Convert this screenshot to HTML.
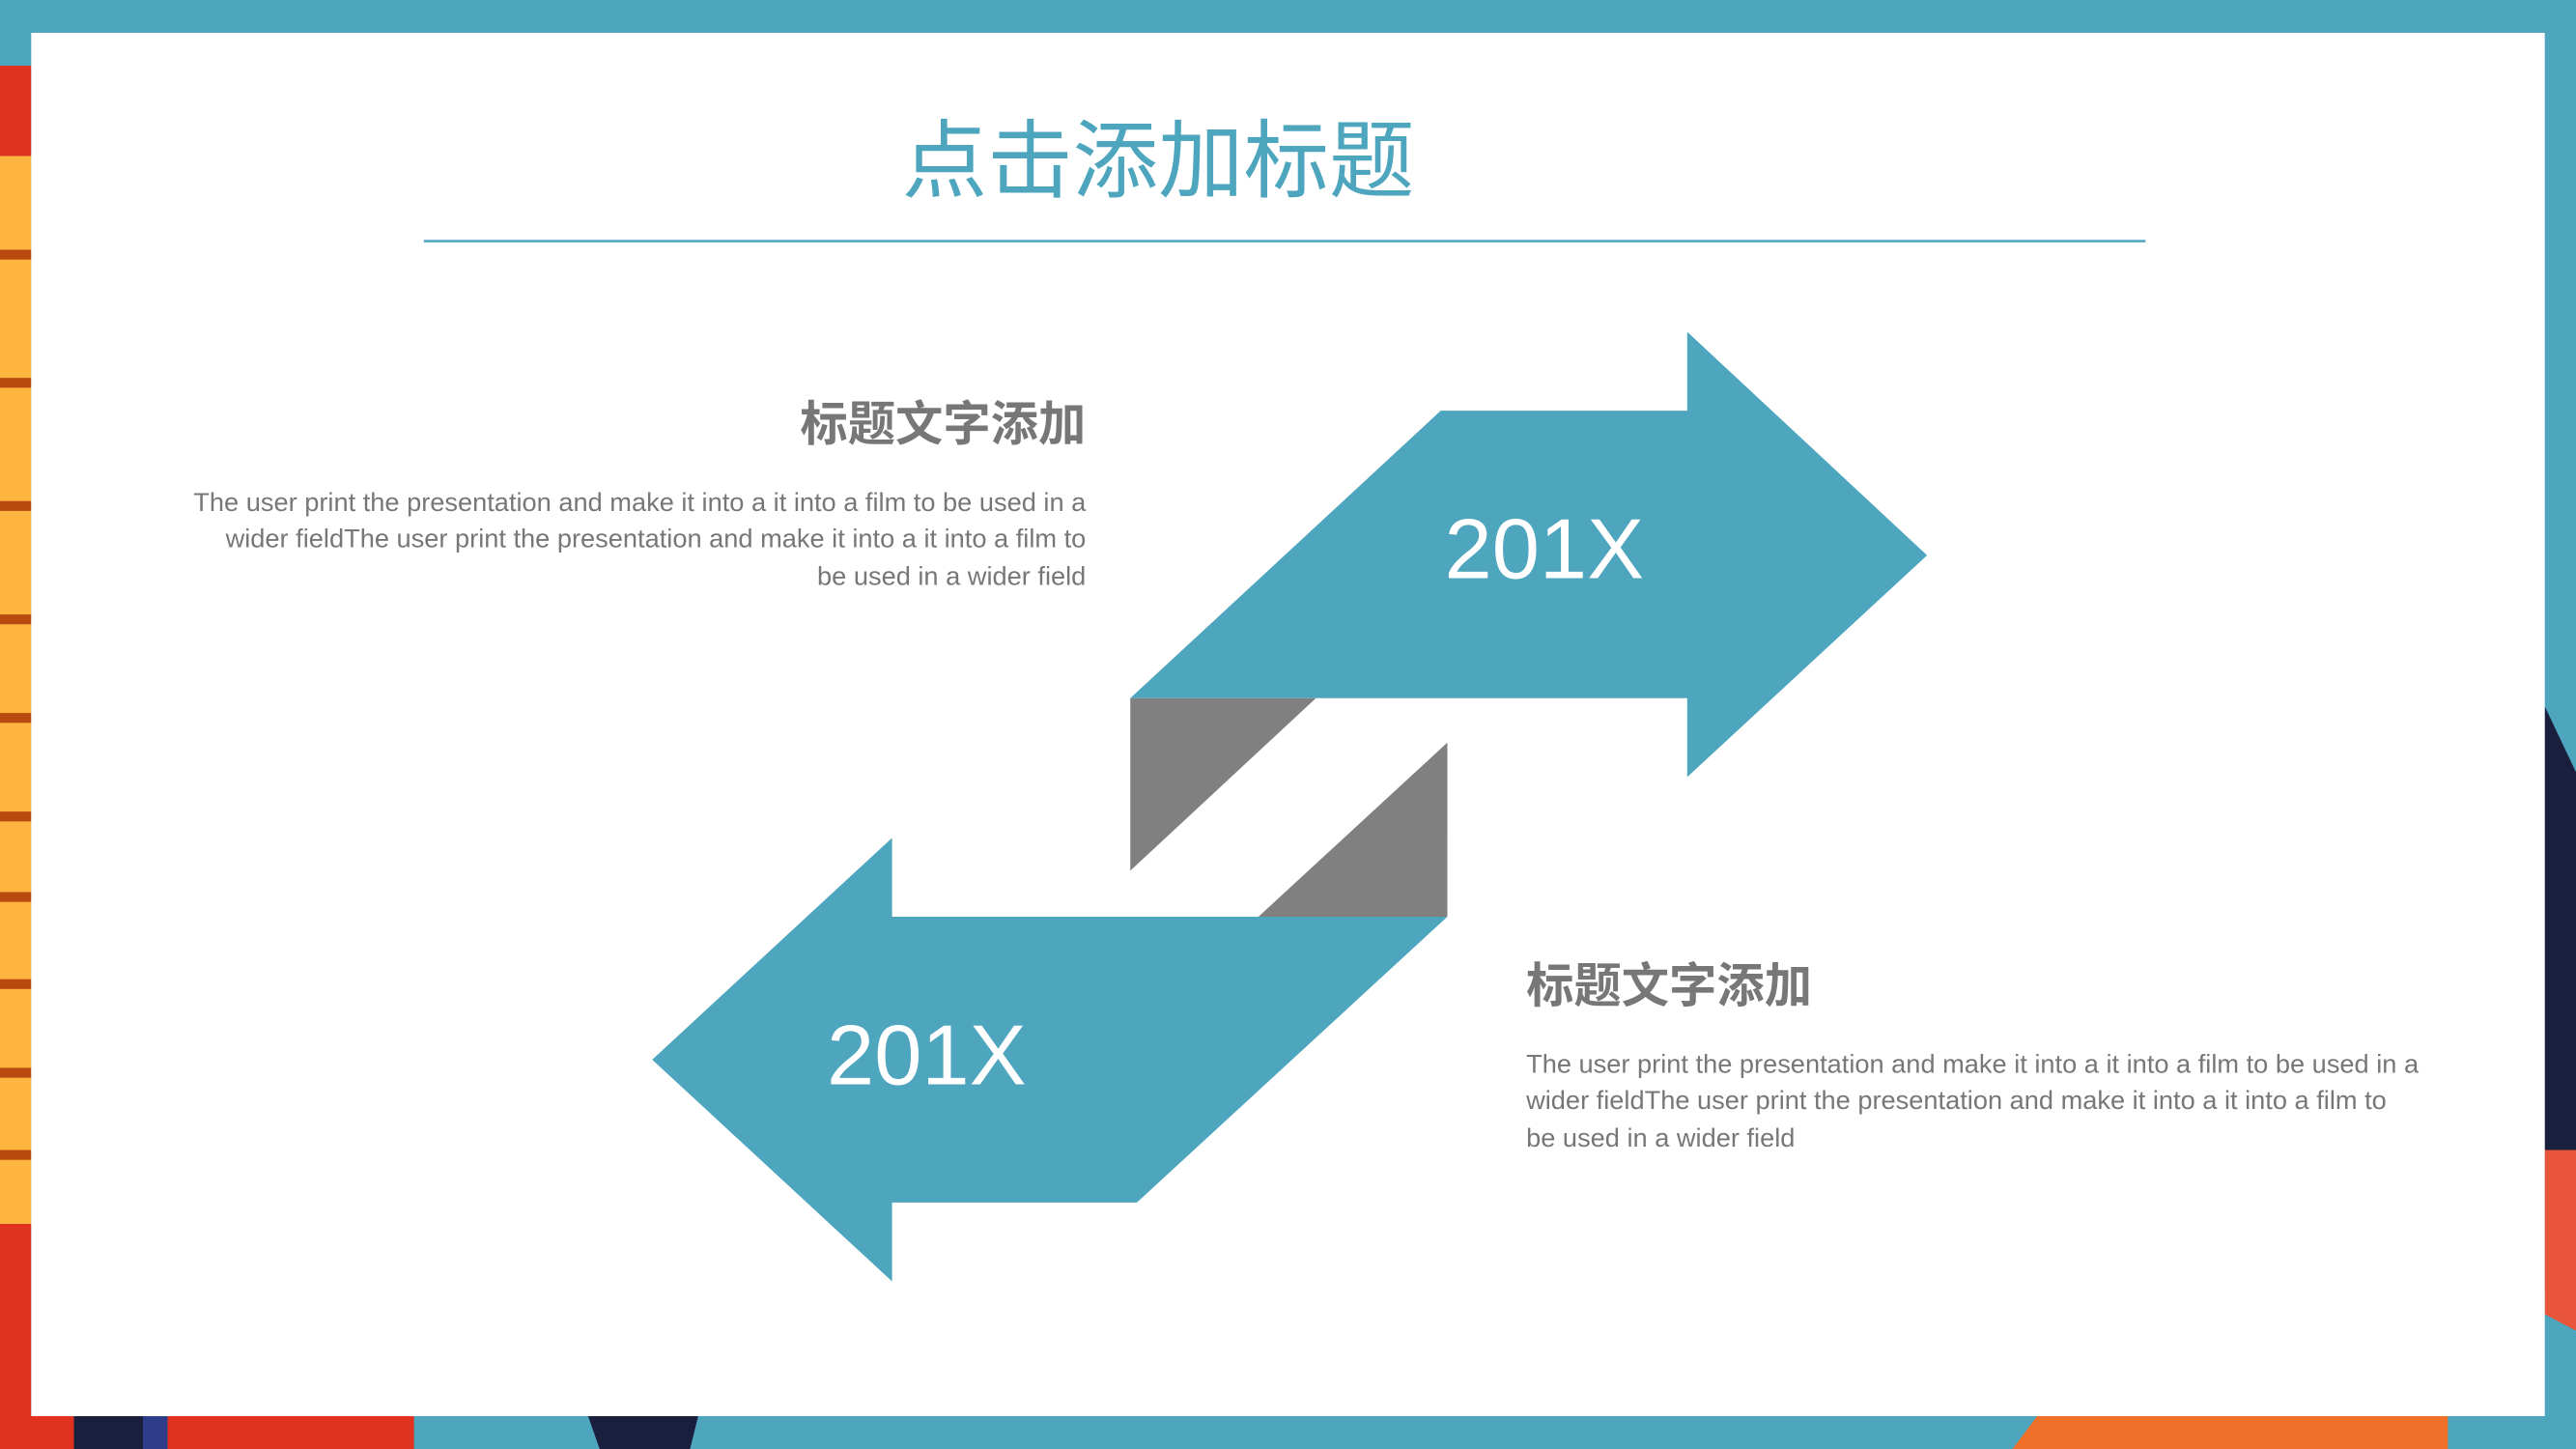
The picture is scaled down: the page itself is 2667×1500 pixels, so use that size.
<!DOCTYPE html>
<html><head><meta charset="utf-8"><style>
html,body{margin:0;padding:0;background:#4da5be}
svg{display:block}
</style></head><body>
<svg width="2667" height="1500" viewBox="0 0 1568 882" preserveAspectRatio="none" xmlns="http://www.w3.org/2000/svg">
<rect width="1568" height="882" fill="#4da5be"/>
<rect x="0" y="40" width="19" height="55" fill="#e0321f"/>
<rect x="0" y="95" width="19" height="650" fill="#fdb540"/>
<g fill="#b84a10">
<rect x="0" y="152" width="19" height="6"/><rect x="0" y="230" width="19" height="6"/><rect x="0" y="305" width="19" height="6"/>
<rect x="0" y="374" width="19" height="6"/><rect x="0" y="434" width="19" height="6"/><rect x="0" y="494" width="19" height="6"/>
<rect x="0" y="543" width="19" height="6"/><rect x="0" y="596" width="19" height="6"/><rect x="0" y="650" width="19" height="6"/>
<rect x="0" y="700" width="19" height="6"/>
</g>
<rect x="0" y="745" width="19" height="137" fill="#e0321f"/>
<rect x="0" y="862" width="45" height="20" fill="#e0321f"/>
<rect x="45" y="862" width="42" height="20" fill="#1a1f3d"/>
<rect x="87" y="862" width="15" height="20" fill="#2e3d8a"/>
<rect x="102" y="862" width="150" height="20" fill="#e0321f"/>
<polygon points="358,862 425,862 420,882 365,882" fill="#1a1f3d"/>
<polygon points="1225,882 1240,862 1490,862 1490,882" fill="#f0702a"/>
<polygon points="1549,430 1568,470 1568,795 1549,785" fill="#1a1f3d"/>
<polygon points="1549,700 1568,700 1568,810 1549,800" fill="#e8553a"/>
<rect x="19" y="20" width="1530" height="842" fill="#fff"/>
<text x="705" y="116" text-anchor="middle" font-family="Liberation Sans, Noto Sans CJK SC, sans-serif" font-size="52" fill="#4da5be">点击添加标题</text>
<rect x="258" y="146" width="1048" height="1.5" fill="#4da5be"/>
<polygon points="688,425 801,425 688,530" fill="#808080"/>
<polygon points="881,452 881,558 766,558" fill="#808080"/>
<polygon points="688,425 877,250 1027,250 1027,202 1173,338 1027,473 1027,425" fill="#4da5be"/>
<polygon points="881,558 692,732 543,732 543,780 397,645 543,510 543,558" fill="#4da5be"/>
<text x="940" y="352" text-anchor="middle" font-family="Liberation Sans, sans-serif" font-size="52" fill="#fff">201X</text>
<text x="564" y="660" text-anchor="middle" font-family="Liberation Sans, sans-serif" font-size="52" fill="#fff">201X</text>
<g font-family="Liberation Sans, Noto Sans CJK SC, sans-serif" fill="#777">
<text x="661" y="268" text-anchor="end" font-size="29" font-weight="bold">标题文字添加</text>
<g font-size="16" text-anchor="end">
<text x="661" y="311">The user print the presentation and make it into a it into a film to be used in a</text>
<text x="661" y="333">wider fieldThe user print the presentation and make it into a it into a film to</text>
<text x="661" y="356">be used in a wider field</text>
</g>
<text x="929" y="610" font-size="29" font-weight="bold">标题文字添加</text>
<g font-size="16">
<text x="929" y="653">The user print the presentation and make it into a it into a film to be used in a</text>
<text x="929" y="675">wider fieldThe user print the presentation and make it into a it into a film to</text>
<text x="929" y="698">be used in a wider field</text>
</g>
</g>
</svg>
</body></html>
